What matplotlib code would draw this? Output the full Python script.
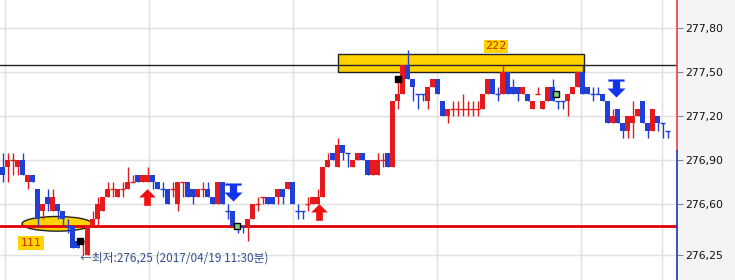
import numpy as np
import matplotlib
matplotlib.use("Agg")
from matplotlib import pyplot as plt
from matplotlib.path import Path
from matplotlib.patches import Rectangle, Ellipse

plt.rcParams['font.family'] = ['Noto Sans CJK KR', 'DejaVu Sans']

# one-minute candles (price)
opens = [276.85, 276.85, 276.90, 276.85, 276.90, 276.75, 276.80, 276.70, 276.55, 276.65,
         276.55, 276.60, 276.55, 276.45, 276.45, 276.35, 276.35, 276.25, 276.45, 276.50,
         276.55, 276.65, 276.70, 276.65, 276.70, 276.70, 276.75, 276.80, 276.75, 276.75,
         276.80, 276.75, 276.70, 276.70, 276.70, 276.60, 276.75, 276.75, 276.70, 276.65,
         276.70, 276.70, 276.65, 276.60, 276.75, 276.55, 276.55, 276.45, 276.45, 276.45,
         276.50, 276.60, 276.65, 276.65, 276.65, 276.65, 276.70, 276.70, 276.75, 276.55,
         276.55, 276.60, 276.60, 276.60, 276.65, 276.85, 276.95, 276.85, 277.00, 276.95,
         276.85, 276.90, 276.95, 276.90, 276.80, 276.80, 276.90, 276.95, 276.85, 277.30,
         277.35, 277.55, 277.45, 277.35, 277.35, 277.30, 277.40, 277.45, 277.30, 277.20,
         277.25, 277.25, 277.25, 277.25, 277.25, 277.25, 277.25, 277.35, 277.45, 277.35,
         277.35, 277.50, 277.40, 277.40, 277.35, 277.35, 277.25, 277.35, 277.25, 277.30,
         277.40, 277.30, 277.30, 277.30, 277.35, 277.40, 277.50, 277.40, 277.35, 277.35,
         277.35, 277.30, 277.15, 277.25, 277.15, 277.10, 277.15, 277.20, 277.30, 277.15,
         277.10, 277.20, 277.15, 277.10]
closes = [276.80, 276.90, 276.90, 276.90, 276.80, 276.80, 276.75, 276.50, 276.60, 276.60,
          276.65, 276.55, 276.50, 276.45, 276.30, 276.30, 276.35, 276.45, 276.50, 276.60,
          276.65, 276.70, 276.70, 276.70, 276.70, 276.75, 276.75, 276.75, 276.80, 276.80,
          276.75, 276.70, 276.70, 276.60, 276.70, 276.75, 276.75, 276.65, 276.65, 276.70,
          276.70, 276.65, 276.60, 276.75, 276.60, 276.55, 276.45, 276.45, 276.45, 276.50,
          276.60, 276.60, 276.65, 276.60, 276.60, 276.70, 276.65, 276.75, 276.60, 276.55,
          276.55, 276.60, 276.65, 276.65, 276.85, 276.90, 276.90, 277.00, 276.95, 276.95,
          276.90, 276.95, 276.90, 276.80, 276.90, 276.90, 276.90, 276.85, 277.30, 277.35,
          277.55, 277.45, 277.40, 277.35, 277.35, 277.40, 277.45, 277.35, 277.20, 277.25,
          277.25, 277.25, 277.25, 277.25, 277.25, 277.25, 277.35, 277.45, 277.35, 277.35,
          277.50, 277.35, 277.35, 277.35, 277.40, 277.30, 277.30, 277.35, 277.30, 277.40,
          277.30, 277.30, 277.30, 277.35, 277.40, 277.50, 277.35, 277.35, 277.35, 277.35,
          277.30, 277.15, 277.20, 277.15, 277.10, 277.20, 277.20, 277.25, 277.15, 277.10,
          277.25, 277.15, 277.15, 277.10]
highs = [276.95, 276.95, 276.95, 276.90, 276.95, 276.80, 276.80, 276.70, 276.60, 276.70,
         276.70, 276.60, 276.55, 276.50, 276.45, 276.35, 276.35, 276.45, 276.55, 276.65,
         276.65, 276.75, 276.75, 276.70, 276.75, 276.85, 276.80, 276.80, 276.80, 276.85,
         276.80, 276.75, 276.75, 276.70, 276.75, 276.75, 276.75, 276.75, 276.70, 276.70,
         276.75, 276.75, 276.65, 276.75, 276.75, 276.60, 276.55, 276.45, 276.45, 276.50,
         276.60, 276.65, 276.65, 276.65, 276.65, 276.70, 276.70, 276.75, 276.75, 276.60,
         276.55, 276.65, 276.65, 276.70, 276.85, 276.95, 276.95, 277.05, 277.00, 276.95,
         276.90, 276.95, 276.95, 276.90, 276.90, 276.95, 276.95, 276.95, 277.30, 277.45,
         277.55, 277.65, 277.45, 277.35, 277.35, 277.40, 277.45, 277.45, 277.30, 277.25,
         277.30, 277.30, 277.35, 277.30, 277.30, 277.30, 277.35, 277.45, 277.45, 277.40,
         277.55, 277.50, 277.45, 277.40, 277.40, 277.35, 277.30, 277.40, 277.30, 277.40,
         277.45, 277.30, 277.30, 277.35, 277.40, 277.50, 277.55, 277.40, 277.40, 277.40,
         277.35, 277.30, 277.25, 277.25, 277.15, 277.20, 277.30, 277.25, 277.30, 277.15,
         277.25, 277.20, 277.15, 277.10]
lows = [276.75, 276.75, 276.80, 276.80, 276.80, 276.70, 276.75, 276.45, 276.50, 276.55,
        276.55, 276.50, 276.45, 276.40, 276.30, 276.30, 276.25, 276.25, 276.45, 276.45,
        276.55, 276.65, 276.65, 276.65, 276.65, 276.70, 276.75, 276.75, 276.75, 276.75,
        276.70, 276.70, 276.65, 276.60, 276.65, 276.55, 276.65, 276.65, 276.60, 276.65,
        276.65, 276.65, 276.60, 276.60, 276.60, 276.50, 276.45, 276.40, 276.40, 276.35,
        276.50, 276.55, 276.60, 276.60, 276.60, 276.60, 276.60, 276.70, 276.60, 276.50,
        276.50, 276.55, 276.60, 276.60, 276.65, 276.85, 276.90, 276.85, 276.90, 276.85,
        276.85, 276.90, 276.90, 276.80, 276.80, 276.80, 276.85, 276.85, 276.85, 277.25,
        277.35, 277.45, 277.30, 277.25, 277.30, 277.25, 277.40, 277.35, 277.20, 277.15,
        277.20, 277.20, 277.20, 277.20, 277.20, 277.20, 277.25, 277.35, 277.35, 277.30,
        277.35, 277.35, 277.35, 277.30, 277.35, 277.30, 277.25, 277.35, 277.25, 277.30,
        277.30, 277.25, 277.25, 277.20, 277.35, 277.40, 277.35, 277.35, 277.30, 277.35,
        277.30, 277.15, 277.15, 277.15, 277.05, 277.05, 277.05, 277.20, 277.15, 277.05,
        277.10, 277.10, 277.05, 277.05]

y_ticks = [276.25, 276.60, 276.90, 277.20, 277.50, 277.80]
support_level = 276.45
high_line = 277.55
low_text = "←최저:276,25 (2017/04/19 11:30분)"

RED = "#e41a1c"
BLUE = "#1f3fd6"

fig = plt.figure(figsize=(7.35, 2.8), dpi=100, facecolor="#f4f4f4")
ax = fig.add_axes([0, 0, 677 / 735, 1])
ax.set_facecolor("white")

n = len(opens)
idx = np.arange(n)
o = np.array(opens)
c = np.array(closes)

# candle colour: up red, down blue, doji follows previous move
cols = []
for i in range(n):
    if c[i] > o[i]:
        cols.append(RED)
    elif c[i] < o[i]:
        cols.append(BLUE)
    else:
        prev = c[i - 1] if i > 0 else c[i]
        if c[i] > prev:
            cols.append(RED)
        elif c[i] < prev:
            cols.append(BLUE)
        else:
            cols.append(cols[-1] if cols else RED)

# grid
for v in y_ticks:
    ax.axhline(v, color="#e0e0e0", lw=1, zorder=0)
for gx in [0.5, 29.3, 58.1, 86.9, 115.7, 131.9]:
    ax.axvline(gx, color="#e0e0e0", lw=1, zorder=0)

# highlight shapes
ax.add_patch(Rectangle((67.1, 277.50), 49.2, 0.12, facecolor="#ffd200",
                       edgecolor="#222222", lw=1, zorder=1))
ax.add_patch(Ellipse((10.9, 276.465), 14, 0.10, facecolor="#ffd200",
                     edgecolor="#222222", lw=1, zorder=1))
ax.text(98.7, 277.675, "222", fontsize=8, color="#c03000", ha="center", va="center",
        family="DejaVu Sans", bbox=dict(facecolor="#ffd200", edgecolor="none", pad=1))
ax.text(5.7, 276.335, "111", fontsize=8, color="#c03000", ha="center", va="center",
        family="DejaVu Sans", bbox=dict(facecolor="#ffd200", edgecolor="none", pad=1.5))

ax.axhline(high_line, color="#222222", lw=1, zorder=2)
ax.axhline(support_level, color="#e00000", lw=2, zorder=2)

# candles
ax.vlines(idx, lows, highs, colors=cols, lw=1, zorder=3)
body = c - o
ax.bar(idx, body, bottom=o, width=0.95, color=cols, linewidth=0, zorder=4)
doji = body == 0
ax.hlines(c[doji], idx[doji] - 0.45, idx[doji] + 0.45,
          colors=[cols[i] for i in idx[doji]], lw=1, zorder=4)

# signal arrows
up_arrow = Path([(0, 0.5), (0.5, 0), (0.2, 0), (0.2, -0.5), (-0.2, -0.5),
                 (-0.2, 0), (-0.5, 0), (0, 0.5)])
down_arrow = Path([(-0.45, 0.5), (0.45, 0.5), (0.45, 0.38), (0.2, 0.38), (0.2, 0),
                   (0.5, 0), (0, -0.5), (-0.5, 0), (-0.2, 0), (-0.2, 0.38),
                   (-0.45, 0.38), (-0.45, 0.5)])
ax.plot([28.9, 63.3], [276.65, 276.545], ls="none", marker=up_arrow,
        markersize=12, color="#ee1111", markeredgewidth=0, zorder=5)
ax.plot([46.1, 122.7], [276.68, 277.39], ls="none", marker=down_arrow,
        markersize=13, color="#1133ee", markeredgewidth=0, zorder=5)

# small markers
ax.plot([15.5, 79.0], [276.35, 277.455], ls="none", marker="s", markersize=4,
        color="black", zorder=6)
ax.plot([46.9, 110.7], [276.45, 277.35], ls="none", marker="s", markersize=4,
        color="black", markerfacecolor="#7fd07f", zorder=6)

ax.text(15.6, 276.232, low_text, fontsize=8.5, color="#34508c", ha="left", va="center")

ax.set_xlim(-0.5, 134.9)
ax.set_ylim(276.082, 277.991)

# right axis
for s in ["top", "left", "bottom", "right"]:
    ax.spines[s].set_visible(False)
tr = ax.get_yaxis_transform()
ax.plot([1, 1], [276.96, 278.5], color="#e04040", lw=1.2, transform=tr, clip_on=False)
ax.plot([1, 1], [275.5, 276.96], color="#2030c0", lw=1.2, transform=tr, clip_on=False)
ax.set_xticks([])
ax.yaxis.tick_right()
ax.set_yticks(y_ticks)
ax.set_yticklabels([f"{v:.2f}".replace(".", ",") for v in y_ticks],
                   family="DejaVu Sans", fontsize=7.8)
ax.tick_params(axis="y", length=4, color="#888888", pad=2, labelcolor="#111111")

fig.savefig("out.png", dpi=100, facecolor=fig.get_facecolor())
